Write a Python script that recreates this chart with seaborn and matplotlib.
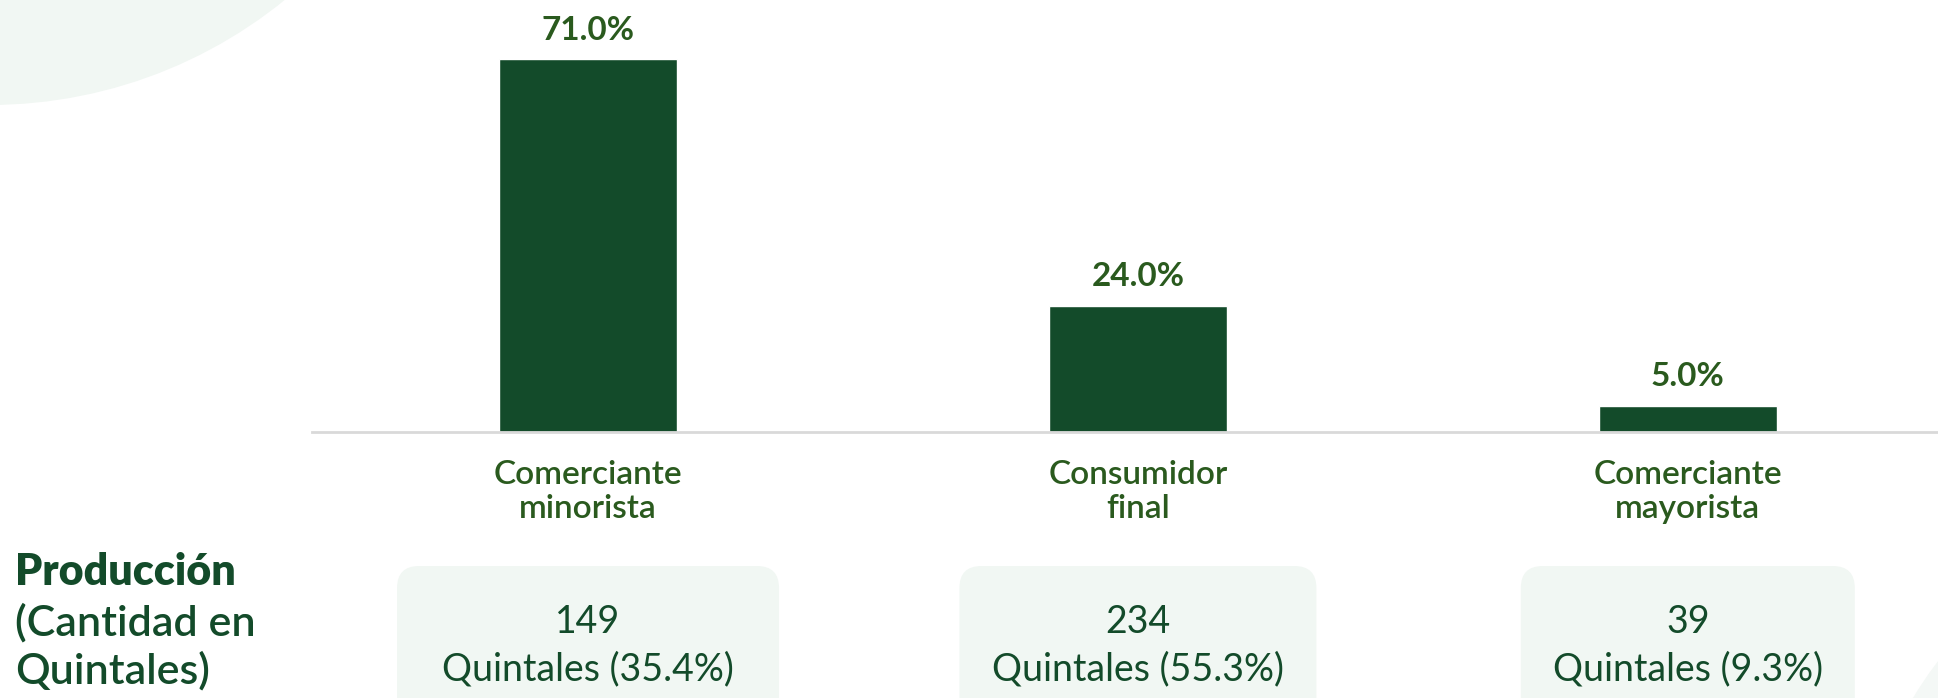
import numpy as np
import pandas as pd
import seaborn as sns
import matplotlib.pyplot as plt
from matplotlib.patches import FancyBboxPatch, Circle

# Data
categories = ["Comerciante\nminorista", "Consumidor\nfinal", "Comerciante\nmayorista"]
shares = [71.0, 24.0, 5.0]
quintales = [149, 234, 39]
quintales_pct = [35.4, 55.3, 9.3]
side_lines = ["Producción", "(Cantidad en", "Quintales)"]

df = pd.DataFrame({"canal": categories, "pct": shares})

bar_green = "#134b2a"
label_green = "#2a5a1e"
mint = "#f1f7f3"

sns.set_theme(style="white")
plt.rcParams["font.family"] = ["Lato", "DejaVu Sans"]

W, H = 1938, 698
fig = plt.figure(figsize=(W / 100, H / 100), dpi=100)

# background layer in pixel coordinates
bg = fig.add_axes([0, 0, 1, 1], zorder=0)
bg.set_xlim(0, W)
bg.set_ylim(H, 0)
bg.axis("off")
bg.add_patch(Circle((-11, -364), 469, color=mint, lw=0))
bg.add_patch(Circle((2250, 900), 393, color="#f4f8f6", lw=0))

# bar chart
ax = fig.add_axes([312 / W, (H - 432) / H, (W - 312) / W, 432 / H], zorder=1)
ax.patch.set_alpha(0)
sns.barplot(data=df, x="canal", y="pct", color=bar_green, width=0.324,
            saturation=1, ax=ax)
ax.set_xlim(-0.502, 2.455)
ax.set_ylim(0, 82.3)
ax.set_xlabel("")
ax.set_ylabel("")
ax.set_yticks([])
for s in ["top", "left", "right"]:
    ax.spines[s].set_visible(False)
ax.spines["bottom"].set_color("#d9d9d9")
ax.spines["bottom"].set_linewidth(2)
ax.tick_params(axis="x", length=0, pad=20)
for t in ax.get_xticklabels():
    t.set_fontsize(24)
    t.set_fontweight("semibold")
    t.set_color(label_green)
    t.set_linespacing(1.17)

ax.bar_label(ax.containers[0], labels=[f"{v:.1f}%" for v in shares],
             padding=10.5, fontsize=24, fontweight="bold", color=label_green)

# production boxes under each bar
box_widths = [382, 357, 334]
fig.canvas.draw()
for i, (q, p) in enumerate(zip(quintales, quintales_pct)):
    disp = ax.transData.transform((i, 0))
    cx = bg.transData.inverted().transform(disp)[0]
    w = box_widths[i]
    bg.add_patch(FancyBboxPatch((cx - w / 2, 566), w, 180,
                                boxstyle="round,pad=0,rounding_size=22",
                                fc=mint, ec="none"))
    bg.text(cx, 622, f"{q}", ha="center", va="center", fontsize=27,
            color=bar_green)
    bg.text(cx, 669, f"Quintales ({p}%)", ha="center", va="center",
            fontsize=27, color=bar_green)

# side caption
bg.text(15, 572, side_lines[0], ha="left", va="center", fontsize=31,
        fontweight="heavy", color=bar_green)
bg.text(15, 623, side_lines[1], ha="left", va="center", fontsize=31,
        fontweight="semibold", color=bar_green)
bg.text(15, 671, side_lines[2], ha="left", va="center", fontsize=31,
        fontweight="semibold", color=bar_green)

fig.savefig("out.png", dpi=100)
